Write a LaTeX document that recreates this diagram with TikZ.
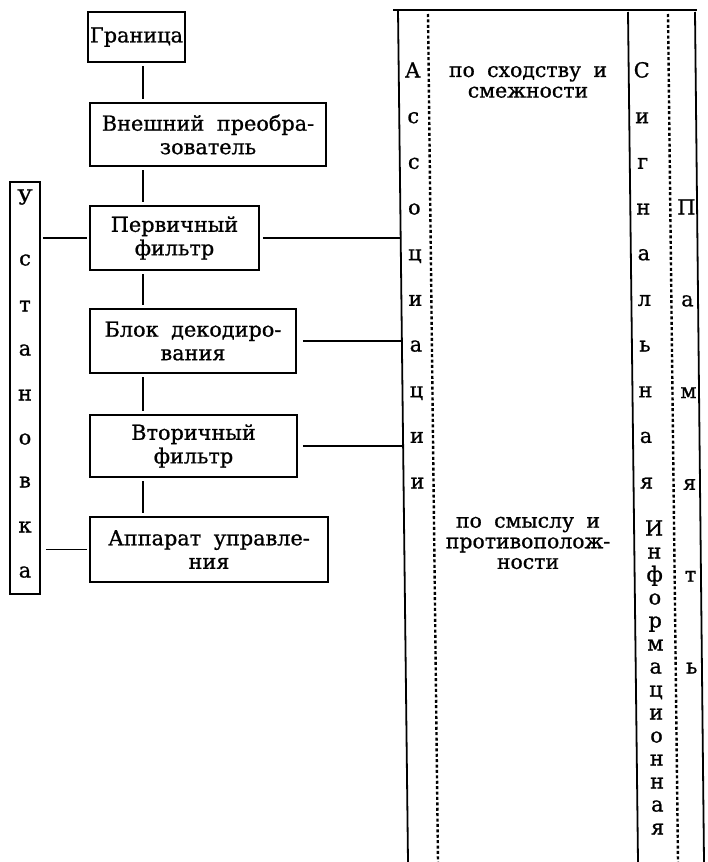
\documentclass[tikz,border=0pt]{standalone}
\usepackage{fontspec}
\setmainfont{DejaVu Serif}
\newfontfamily\inkfont{DejaVu Serif}[FakeBold=0.9, WordSpace=1.5]
\newfontfamily\midinkfont{DejaVu Serif}[FakeBold=0.9, WordSpace=1.9]
\newcommand\boxfont{\inkfont\fontsize{20.8}{23.5}\selectfont}
\newcommand\colfont{\midinkfont\fontsize{20.4}{20.6}\selectfont}
\begin{document}
\begin{tikzpicture}[x=1pt,y=-1pt,
  box/.style={draw, line width=1.8pt, inner sep=0pt, align=center, font=\boxfont},
  conn/.style={line width=1.8pt},
  dots/.style={line width=2.4pt, dash pattern=on 3pt off 2.4pt},
  letter/.style={inner sep=0pt, text height=11pt, text depth=0pt, font=\boxfont},
  coltext/.style={inner sep=0pt, align=center, font=\colfont}
]
\useasboundingbox[fill=white] (0,0) rectangle (707,862);

% left chain of boxes
\node[box, minimum width=97pt, minimum height=50pt] (gr) at (136.5,37) {Граница};
\node[box, minimum width=236pt, minimum height=63pt] (vn) at (208,134.5) {Внешний преобра-\\зователь};
\node[box, minimum width=169pt, minimum height=64pt] (pf) at (174.5,238) {Первичный\\фильтр};
\node[box, minimum width=206pt, minimum height=64pt] (bd) at (193,341) {Блок декодиро-\\вания};
\node[box, minimum width=207pt, minimum height=62pt] (vf) at (193.5,446) {Вторичный\\фильтр};
\node[box, minimum width=238pt, minimum height=65pt] (au) at (209,549.5) {Аппарат управле-\\ния};
\node[draw, line width=1.8pt, minimum width=30pt, minimum height=412pt, inner sep=0pt] (us) at (25,388) {};

% letters of "Установка"
\foreach \l/\yy [count=\i] in {У/199,с/260,т/306,а/350,н/395,о/439,в/482,к/527,а/572}
  \node[letter] (u\i) at (25,\yy) {\l};

% vertical connectors
\coordinate (cx) at (143,0);
\foreach \a/\b in {gr/vn,vn/pf,pf/bd,bd/vf,vf/au}
  \draw[conn, shorten <=3.5pt, shorten >=3pt] (\a.south -| cx) -- (\b.north -| cx);

% right-hand columns (slightly slanted as in the scan)
\coordinate (T1) at (393,10);
\coordinate (T2) at (697,10);
\coordinate (L1t) at (398,10);  \coordinate (L1b) at (408,862);
\coordinate (D1t) at (428,14);  \coordinate (D1b) at (438,862);
\coordinate (L2t) at (628,12);  \coordinate (L2b) at (638,862);
\coordinate (D2t) at (668,14);  \coordinate (D2b) at (678,862);
\coordinate (L3t) at (695,12);  \coordinate (L3b) at (704,862);
\draw[conn] (T1) -- (T2);
\draw[conn] (L1t) -- (L1b);
\draw[conn] (L2t) -- (L2b);
\draw[conn] (L3t) -- (L3b);
\draw[dots] (D1t) -- (D1b);
\draw[dots] (D2t) -- (D2b);

% connection points on the first column line
\coordinate (epf) at (400.7,238);
\coordinate (ebd) at (401.9,341);
\coordinate (evf) at (403.1,446);

% horizontal connectors
\draw[conn, shorten <=2pt, shorten >=2pt] (us.east |- pf.west) -- (pf.west);
\draw[conn, shorten <=5pt, shorten >=2pt] (us.east |- au.west) -- (au.west);
\draw[conn, shorten <=3pt] (pf.east) -- (epf);
\draw[conn, shorten <=6pt] (bd.east) -- (ebd);
\draw[conn, shorten <=5pt] (vf.east) -- (evf);

% column "Ассоциации"
\foreach \l [count=\i from 0] in {А,с,с,о,ц,и,а,ц,и,и}{
  \pgfmathsetmacro\yy{72+45.67*\i}
  \pgfmathsetmacro\xx{412+10*(\yy-10)/852}
  \node[letter] (as\i) at (\xx,\yy) {\l};
}
% column "Сигнальная Информационная"
\foreach \l [count=\i from 0] in {С,и,г,н,а,л,ь,н,а,я}{
  \pgfmathsetmacro\yy{72+45.67*\i}
  \pgfmathsetmacro\xx{641+10*(\yy-10)/852}
  \node[letter] (sg\i) at (\xx,\yy) {\l};
}
\foreach \l [count=\i from 0] in {И,н,ф,о,р,м,а,ц,и,о,н,н,а,я}{
  \pgfmathsetmacro\yy{530+23*\i}
  \pgfmathsetmacro\xx{648+10*(\yy-10)/852}
  \node[letter] (inf\i) at (\xx,\yy) {\l};
}
% column "Память"
\foreach \l [count=\i from 0] in {П,а,м,я,т,ь}{
  \pgfmathsetmacro\yy{209+91.8*\i}
  \pgfmathsetmacro\xx{684+10*(\yy-10)/852}
  \node[letter] (pm\i) at (\xx,\yy) {\l};
}

% texts in the middle column
\node[coltext] (t1) at (528,82) {по сходству и\\смежности};
\node[coltext] (t2) at (528,543) {по смыслу и\\противополож-\\ности};
\end{tikzpicture}
\end{document}
